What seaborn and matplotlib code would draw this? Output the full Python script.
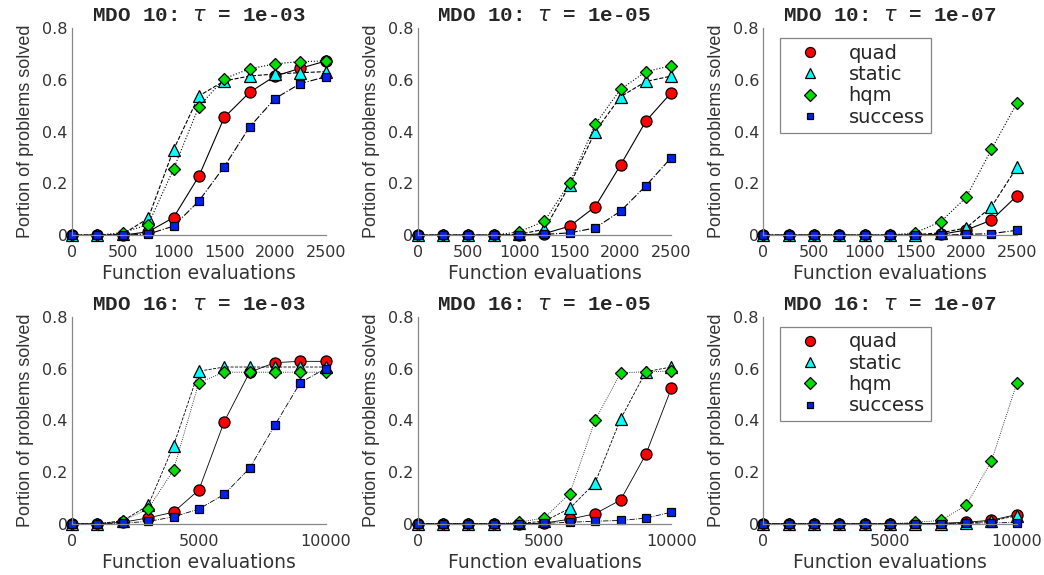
import seaborn as sns
import matplotlib.pyplot as plt
from matplotlib.lines import Line2D

# function evaluation grids
evals_10 = [0, 250, 500, 750, 1000, 1250, 1500, 1750, 2000, 2250, 2500]
evals_16 = [0, 1000, 2000, 3000, 4000, 5000, 6000, 7000, 8000, 9000, 10000]

methods = ["quad", "static", "hqm", "success"]

# MDO 10, tau = 1e-03
quad_10_3 = [0, 0, 0, 0.013, 0.068, 0.228, 0.455, 0.552, 0.615, 0.645, 0.673]
static_10_3 = [0, 0, 0.004, 0.065, 0.33, 0.538, 0.596, 0.615, 0.623, 0.628, 0.632]
hqm_10_3 = [0, 0, 0.01, 0.041, 0.255, 0.497, 0.605, 0.643, 0.662, 0.671, 0.673]
success_10_3 = [0, 0, 0, 0.004, 0.035, 0.132, 0.265, 0.418, 0.528, 0.586, 0.612]

# MDO 10, tau = 1e-05
quad_10_5 = [0, 0, 0, 0, 0, 0.006, 0.035, 0.11, 0.271, 0.441, 0.551]
static_10_5 = [0, 0, 0, 0, 0.003, 0.023, 0.194, 0.40, 0.535, 0.594, 0.615]
hqm_10_5 = [0, 0, 0, 0, 0.013, 0.054, 0.203, 0.428, 0.564, 0.632, 0.655]
success_10_5 = [0, 0, 0, 0, 0, 0.003, 0.009, 0.028, 0.093, 0.191, 0.30]

# MDO 10, tau = 1e-07
quad_10_7 = [0, 0, 0, 0, 0, 0, 0, 0.003, 0.02, 0.058, 0.152]
static_10_7 = [0, 0, 0, 0, 0, 0, 0.002, 0.009, 0.028, 0.11, 0.262]
hqm_10_7 = [0, 0, 0, 0, 0, 0, 0.01, 0.052, 0.146, 0.332, 0.51]
success_10_7 = [0, 0, 0, 0, 0, 0, 0, 0, 0.003, 0.006, 0.019]

# MDO 16, tau = 1e-03
quad_16_3 = [0, 0, 0.006, 0.023, 0.045, 0.131, 0.395, 0.586, 0.623, 0.628, 0.628]
static_16_3 = [0, 0, 0.012, 0.071, 0.302, 0.59, 0.606, 0.606, 0.606, 0.606, 0.606]
hqm_16_3 = [0, 0, 0.012, 0.058, 0.208, 0.546, 0.586, 0.586, 0.586, 0.586, 0.586]
success_16_3 = [0, 0, 0.003, 0.009, 0.027, 0.057, 0.114, 0.215, 0.382, 0.546, 0.60]

# MDO 16, tau = 1e-05
quad_16_5 = [0, 0, 0, 0, 0, 0.003, 0.018, 0.039, 0.092, 0.269, 0.523]
static_16_5 = [0, 0, 0, 0, 0.002, 0.01, 0.06, 0.159, 0.405, 0.588, 0.606]
hqm_16_5 = [0, 0, 0, 0, 0.006, 0.023, 0.117, 0.401, 0.583, 0.588, 0.59]
success_16_5 = [0, 0, 0, 0, 0, 0.002, 0.006, 0.01, 0.013, 0.022, 0.045]

# MDO 16, tau = 1e-07
quad_16_7 = [0, 0, 0, 0, 0, 0, 0, 0.002, 0.006, 0.014, 0.036]
static_16_7 = [0, 0, 0, 0, 0, 0, 0, 0.001, 0.003, 0.01, 0.032]
hqm_16_7 = [0, 0, 0, 0, 0, 0, 0.006, 0.013, 0.071, 0.243, 0.544]
success_16_7 = [0, 0, 0, 0, 0, 0, 0, 0, 0.002, 0.004, 0.005]

panels = [
    ("MDO 10", "1e-03", evals_10, [quad_10_3, static_10_3, hqm_10_3, success_10_3]),
    ("MDO 10", "1e-05", evals_10, [quad_10_5, static_10_5, hqm_10_5, success_10_5]),
    ("MDO 10", "1e-07", evals_10, [quad_10_7, static_10_7, hqm_10_7, success_10_7]),
    ("MDO 16", "1e-03", evals_16, [quad_16_3, static_16_3, hqm_16_3, success_16_3]),
    ("MDO 16", "1e-05", evals_16, [quad_16_5, static_16_5, hqm_16_5, success_16_5]),
    ("MDO 16", "1e-07", evals_16, [quad_16_7, static_16_7, hqm_16_7, success_16_7]),
]

styles = {
    "quad": dict(ls="-", marker="o", mfc="red", ms=8),
    "static": dict(ls="--", marker="^", mfc="cyan", ms=8.5),
    "hqm": dict(ls=":", marker="D", mfc="#00e000", ms=6.5),
    "success": dict(ls="-.", marker="s", mfc="#0022ee", ms=5.5),
}

sns.set_style("white")
plt.rcParams["font.family"] = ["DejaVu Sans"]

fig = plt.figure(figsize=(10.44, 5.75), dpi=100)
lefts = [0.069, 0.400, 0.731]
bottoms = [0.591, 0.089]
w, h = 0.243, 0.36

for i, (name, tau, x, series) in enumerate(panels):
    ax = fig.add_axes([lefts[i % 3], bottoms[i // 3], w, h])
    lw = 0.8 if i < 3 else 0.6
    for m, y in zip(methods, series):
        st = styles[m]
        sns.lineplot(x=x, y=y, ax=ax, color="black", linestyle=st["ls"], lw=lw,
                     marker=st["marker"], markersize=st["ms"],
                     markerfacecolor=st["mfc"], markeredgecolor="black",
                     markeredgewidth=0.9, clip_on=False)
    ax.set_xlim(0, x[-1])
    ax.set_ylim(0, 0.8)
    ax.set_yticks([0, 0.2, 0.4, 0.6, 0.8])
    ax.set_yticklabels(["0", "0.2", "0.4", "0.6", "0.8"])
    if i < 3:
        ax.set_xticks([0, 500, 1000, 1500, 2000, 2500])
    else:
        ax.set_xticks([0, 5000, 10000])
    ax.tick_params(length=0, labelsize=11.5, labelcolor="#333333")
    ax.tick_params(axis="x", pad=7)
    ax.tick_params(axis="y", pad=3)
    for s in ["top", "right"]:
        ax.spines[s].set_visible(False)
    for s in ["left", "bottom"]:
        ax.spines[s].set_color("#888888")
        ax.spines[s].set_linewidth(0.9)
    ax.set_xlabel("Function evaluations", fontsize=13.5, color="#333333", labelpad=3)
    ax.set_ylabel("Portion of problems solved", fontsize=13, color="#333333",
                  family="Liberation Sans", labelpad=6)
    ax.set_title(name + r": $\tau$ = " + tau, family="Liberation Mono",
                 fontweight="bold", fontsize=15, pad=5)
    if i % 3 == 2:
        handles = [Line2D([], [], ls="none", marker=styles[m]["marker"],
                          markersize=styles[m]["ms"] * 0.9,
                          markerfacecolor=styles[m]["mfc"],
                          markeredgecolor="black", markeredgewidth=0.9)
                   for m in methods]
        leg = ax.legend(handles, methods, loc="upper left",
                        bbox_to_anchor=(0.03, 1.0), fontsize=14,
                        frameon=True, fancybox=False, labelspacing=0.12,
                        handletextpad=0.8, borderpad=0.3, handlelength=2.4)
        leg.get_frame().set_edgecolor("#666666")
        leg.get_frame().set_linewidth(0.9)

fig.savefig("out.png", dpi=100)
